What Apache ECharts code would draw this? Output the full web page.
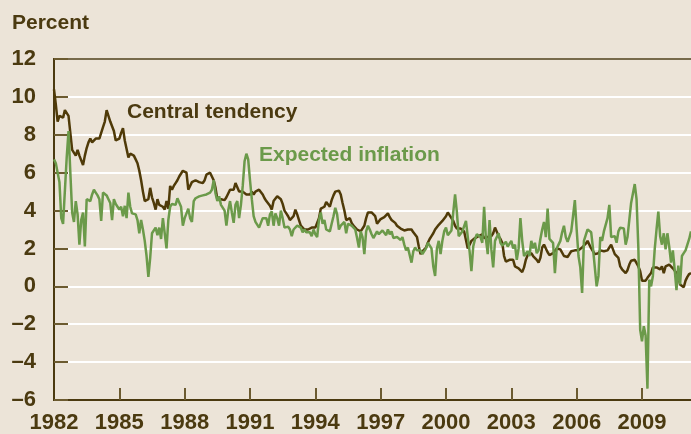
<!DOCTYPE html>
<html>
<head>
<meta charset="utf-8">
<script src="https://cdn.jsdelivr.net/npm/echarts@6/dist/echarts.min.js"></script>
<style>
  html, body { margin: 0; padding: 0; background: #ece4d8; }
  #chart { width: 691px; height: 434px; }
</style>
</head>
<body>
<div id="chart"></div>
<script>
// monthly series, Jan 1982 onwards
const startYear = 1982;
const tickYears = ['1982', '1985', '1988', '1991', '1994', '1997', '2000', '2003', '2006', '2009'];

const centralTendency = [
  10.4, 9.6, 8.7, 9.0, 9.1, 8.9, 9.3, 9.4, 9.0, 9.1, 7.2, 7.3,
  6.9, 7.2, 6.9, 7.0, 6.4, 6.9, 7.3, 7.6, 7.8, 7.6, 7.7, 7.8,
  7.7, 7.8, 8.1, 8.4, 8.7, 9.3, 9.2, 8.7, 8.6, 8.2, 7.7, 7.7,
  7.8, 8.1, 8.35, 7.7, 7.6, 6.8, 7.0, 7.0, 6.9, 6.7, 6.5, 6.1,
  5.6, 5.0, 4.5, 4.45, 4.6, 5.2, 4.7, 4.4, 4.05, 4.6, 4.3, 4.2,
  4.2, 4.05, 4.5, 4.1, 5.3, 5.1, 5.3, 5.45, 5.6, 5.8, 5.9, 6.1,
  6.1, 6.0, 5.1, 5.2, 5.5, 5.5, 5.6, 5.6, 5.5, 5.5, 5.45, 5.6,
  5.9, 5.8, 6.0, 6.0, 5.6, 5.2, 4.6, 4.5, 4.6, 4.7, 4.55, 4.7,
  4.8, 5.1, 5.2, 5.1, 5.45, 5.35, 5.0, 5.1, 5.0, 5.05, 4.85, 4.75,
  4.85, 5.0, 4.85, 5.0, 5.05, 5.1, 5.1, 4.85, 4.65, 4.5, 4.4, 4.25,
  4.05, 4.5, 4.6, 4.75, 4.65, 4.6, 4.35, 4.0, 3.85, 3.7, 3.5, 3.6,
  3.7, 4.05, 3.8, 3.5, 3.2, 3.1, 3.0, 3.05, 3.0, 2.9, 3.1, 3.2,
  3.1, 3.0, 3.6, 4.1, 4.15, 4.2, 4.45, 4.55, 4.2, 4.55, 4.8, 5.0,
  5.1, 5.05, 4.85, 4.4, 4.0, 3.5, 3.55, 3.6, 3.35, 3.2, 3.1, 3.0,
  2.95, 2.9, 2.95, 3.2, 3.6, 3.9, 3.85, 3.9, 3.8, 3.7, 3.3, 3.3,
  3.55, 3.6, 3.65, 3.75, 3.85, 3.65, 3.5, 3.45, 3.35, 3.2, 3.1, 3.05,
  3.0, 2.95, 2.9, 3.0, 3.05, 3.0, 2.85, 2.8, 2.6, 2.1, 1.7, 1.85,
  1.95, 2.05, 2.3, 2.5, 2.65, 2.8, 3.0, 3.1, 3.25, 3.35, 3.45, 3.55,
  3.7, 3.9, 3.9, 3.6, 3.45, 3.2, 3.05, 3.0, 3.05, 2.95, 2.9, 2.9,
  2.0, 2.0, 2.4, 2.5, 2.55, 2.6, 2.65, 2.75, 2.75, 2.55, 2.55, 2.6,
  2.7, 2.65, 2.8, 3.1, 3.0, 2.65, 2.5, 2.3, 1.6, 1.3, 1.2, 1.4,
  1.5, 1.4, 1.05, 1.1, 0.95, 0.85, 0.75, 1.0, 1.4, 1.65, 1.75, 1.75,
  1.6, 1.5, 1.4, 1.25, 1.5, 2.05, 2.2, 2.1, 1.8, 1.65, 1.6, 1.75,
  1.85, 2.0, 2.05, 1.95, 2.0, 1.6, 1.5, 1.55, 1.7, 1.85, 1.95, 1.9,
  1.9, 1.9, 2.0, 2.05, 2.15, 2.25, 2.4, 2.3, 2.0, 1.85, 1.7, 1.6,
  1.75, 1.9, 1.95, 1.85, 1.8, 1.9, 2.05, 2.2, 1.95, 1.7, 1.75, 1.5,
  1.05, 0.9, 0.95, 0.7, 0.85, 1.15, 1.35, 1.4, 1.4, 1.3, 1.05, 0.8,
  0.3, 0.2, 0.3, 0.45, 0.55, 0.7, 1.0, 1.05, 1.0, 1.0, 0.9, 1.05,
  0.7, 1.05, 1.0, 1.15, 1.05, 0.95, 0.85, 0.7, 0.55, 0.1, 0.0, -0.05,
  0.3, 0.5, 0.65, 0.7
];

const expectedInflation = [
  6.7, 6.5, 6.4, 5.5, 3.6, 3.3, 3.2, 6.8, 8.2, 6.0, 3.9, 3.4,
  4.5, 3.8, 2.2, 3.5, 3.9, 2.1, 4.6, 4.7, 4.5, 4.85, 5.1, 4.95,
  4.8, 4.6, 3.45, 4.95, 4.85, 4.8, 4.6, 4.4, 3.5, 4.6, 4.35, 4.2,
  4.05, 4.2, 3.7, 4.25, 3.6, 4.95, 4.2, 3.85, 3.75, 3.8, 3.5, 2.8,
  3.5, 3.0, 2.4, 1.6, 0.5, 1.5, 2.8, 2.9, 3.1, 2.7, 3.1, 2.5,
  3.6, 3.5, 2.0, 3.5, 4.2, 4.35, 4.4, 4.3, 4.65, 4.6, 4.2, 3.2,
  3.6, 3.5, 4.1, 3.6, 3.4, 4.5, 4.65, 4.65, 4.75, 4.7, 4.8, 4.75,
  4.85, 4.8, 4.95, 5.1, 5.6, 4.9, 4.5, 4.75, 4.3, 4.2, 4.0, 3.2,
  4.0, 4.5, 3.9, 3.35, 4.3, 4.5, 3.6, 4.3, 5.3, 6.6, 7.0, 6.7,
  5.6, 4.6, 3.7, 3.4, 3.3, 3.1, 3.2, 3.6, 3.5, 3.6, 3.2, 3.8,
  3.95, 3.2, 3.85, 3.6, 3.2, 4.0, 3.6, 3.1, 3.2, 3.15, 3.0, 2.65,
  3.0, 2.9, 3.2, 3.3, 3.1, 2.85, 3.0, 2.85, 2.75, 2.85, 2.65, 3.0,
  2.75, 2.6, 3.5, 3.9, 3.3, 3.5, 3.0, 3.1, 2.9, 3.3, 3.7, 4.15,
  3.8, 3.0, 3.2, 3.3, 3.4, 2.8, 3.3, 3.2, 3.2, 3.1, 3.0, 2.55,
  2.05, 2.9, 2.6, 1.7, 2.9, 3.2, 3.0, 2.75, 2.55, 2.65, 2.9, 2.75,
  2.85, 2.95, 3.0, 2.7, 3.0, 2.75, 2.9, 2.55, 2.45, 2.6, 2.7, 2.45,
  2.6, 2.2, 1.9, 2.05, 1.95, 1.25, 1.85, 2.05, 1.9, 1.8, 1.9, 1.7,
  1.6, 2.0, 2.3, 2.25, 2.0, 1.05, 0.55, 2.0, 2.4, 1.7, 2.4, 2.9,
  3.1, 2.7, 2.8, 2.95, 2.85, 4.85, 3.9, 2.65, 2.75, 2.9, 2.95, 3.45,
  2.6, 1.85, 0.8, 2.1, 2.5, 2.75, 2.8, 2.6, 2.3, 4.2, 2.5, 1.7,
  3.5, 1.95, 1.0, 2.4, 2.6, 2.8, 2.3, 2.15, 2.2, 2.35, 2.1, 2.2,
  2.4, 2.0, 2.2, 1.4, 2.0, 3.6, 2.4, 1.6, 1.6, 1.85, 1.6, 2.4,
  2.0, 2.3, 1.75, 1.9, 2.5, 3.0, 3.4, 2.6, 4.1, 2.5, 2.4, 2.3,
  0.7, 2.0, 2.2, 2.4, 2.85, 3.2, 2.6, 2.35, 2.4, 2.9, 3.7, 4.55,
  3.0, 1.6, 1.0, -0.35, 2.4, 2.7, 3.0, 3.05, 2.85, 2.0, 1.0, 0.0,
  0.55, 2.6, 2.4, 2.9, 2.95, 3.6, 4.3, 2.6, 2.5, 2.65, 2.3, 2.9,
  3.1, 3.1, 3.05, 2.2, 2.6, 3.5, 4.4, 4.9, 5.4, 4.6, 2.0, -2.3,
  -2.9, -2.1, -2.6, -5.4, 0.35, 0.0, 0.55, 1.95, 3.0, 3.95, 2.65, 2.2,
  2.8, 1.95, 2.8, 2.1, 1.25, 1.9, 0.9, -0.2, 1.1, 0.1, 1.6, 1.75,
  1.9, 2.2, 2.5, 2.9
];

const months = centralTendency.map((v, i) => {
  const y = startYear + Math.floor(i / 12);
  const m = (i % 12) + 1;
  return y + '-' + (m < 10 ? '0' + m : m);
});

const textColor = '#4b3a10';
const brown = '#4f3a08';
const green = '#6b9a4a';
const tickColor = '#6c5b30';
const font = '"Liberation Sans", Arial, sans-serif';

function isTick(idx, val) {
  return val.slice(5) === '01' && tickYears.includes(val.slice(0, 4));
}

let chart = echarts.init(document.getElementById('chart'));

let option = {
  animation: false,
  backgroundColor: '#ece4d8',
  grid: { left: 54, right: 0, top: 59, bottom: 33 },
  xAxis: [
    {
      type: 'category',
      data: months,
      boundaryGap: false,
      axisLine: { onZero: false, lineStyle: { color: textColor, width: 2 } },
      axisTick: { inside: true, length: 12, interval: isTick, lineStyle: { color: tickColor, width: 2 } },
      axisLabel: {
        interval: isTick,
        formatter: v => v.slice(0, 4),
        color: textColor, fontFamily: font, fontWeight: 'bold', fontSize: 22, margin: 12
      },
      splitLine: { show: false }
    },
    {
      // top frame line
      type: 'category',
      data: months,
      position: 'top',
      boundaryGap: false,
      axisLine: { show: true, onZero: false, lineStyle: { color: textColor, width: 1.5 } },
      axisTick: { show: false },
      axisLabel: { show: false },
      splitLine: { show: false }
    }
  ],
  yAxis: [
    {
      type: 'value',
      min: -6,
      max: 12,
      interval: 2,
      axisLine: { show: true, onZero: false, lineStyle: { color: textColor, width: 2 } },
      axisTick: { show: false },
      axisLabel: {
        formatter: v => String(v).replace('-', '\u2013'),
        color: textColor, fontFamily: font, fontWeight: 'bold', fontSize: 22, margin: 18
      },
      splitLine: { lineStyle: { color: '#ffffff', width: 2 } }
    },
    {
      // short inside ticks drawn over the white grid lines
      type: 'value',
      position: 'left',
      min: -6,
      max: 12,
      interval: 2,
      z: 1,
      axisLine: { show: true, onZero: false, lineStyle: { color: textColor, width: 2 } },
      axisTick: { show: true, inside: true, length: 14, lineStyle: { color: tickColor, width: 2 } },
      axisLabel: { show: false },
      splitLine: { show: false }
    }
  ],
  graphic: [
    { type: 'text', x: 12, y: 23, style: { text: 'Percent', font: 'bold 21px ' + font, fill: textColor, verticalAlign: 'middle' } },
    { type: 'text', x: 127, y: 112, style: { text: 'Central tendency', font: 'bold 21px ' + font, fill: textColor, verticalAlign: 'middle' } },
    { type: 'text', x: 259, y: 155, style: { text: 'Expected inflation', font: 'bold 21px ' + font, fill: green, verticalAlign: 'middle' } }
  ],
  series: [
    {
      name: 'Central tendency',
      type: 'line',
      data: centralTendency,
      symbol: 'none',
      lineStyle: { color: brown, width: 2.5 }
    },
    {
      name: 'Expected inflation',
      type: 'line',
      data: expectedInflation,
      symbol: 'none',
      lineStyle: { color: green, width: 2.5 }
    }
  ]
};

chart.setOption(option);
</script>
</body>
</html>
